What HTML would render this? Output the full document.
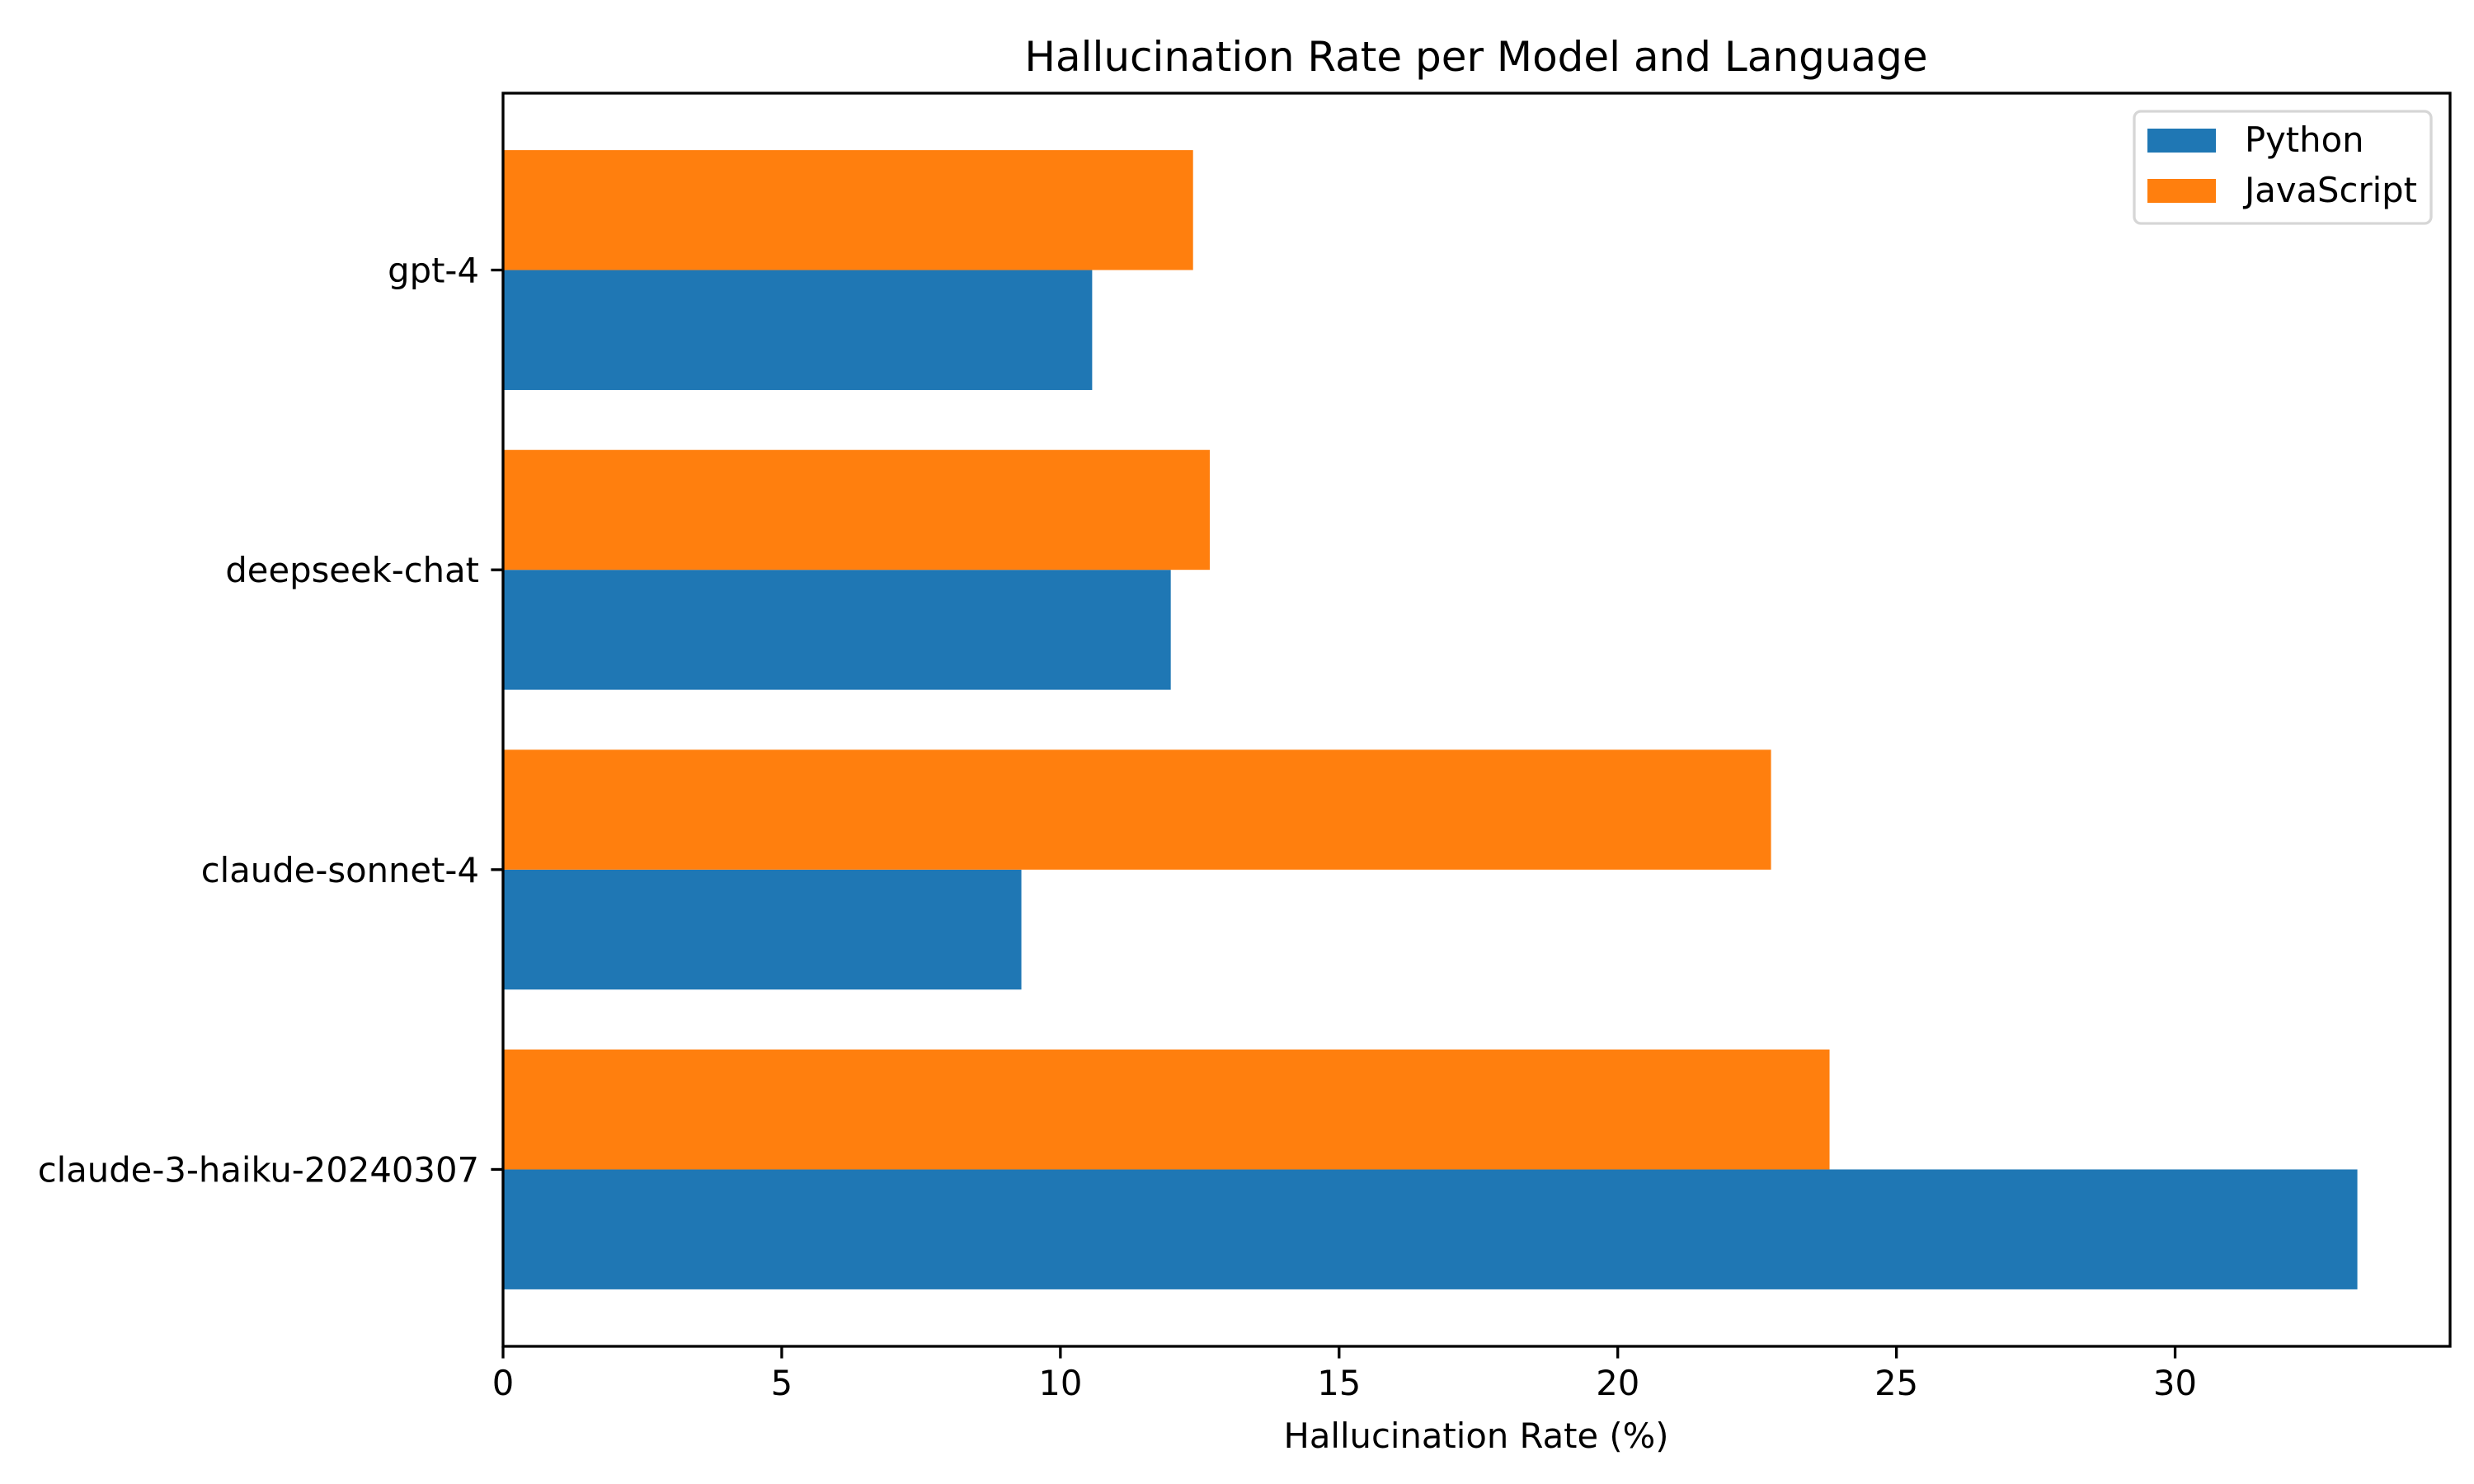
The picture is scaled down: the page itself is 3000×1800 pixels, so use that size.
<!DOCTYPE html>
<html><head><meta charset="utf-8"><style>
html,body{margin:0;padding:0;background:#fff;}
svg{display:block;font-family:"DejaVu Sans","Liberation Sans",sans-serif;}
</style></head><body>
<svg id="chart" width="3000" height="1800" viewBox="0 0 3000 1800" xmlns="http://www.w3.org/2000/svg">
<rect width="3000" height="1800" fill="#fff"/>
<g id="bars"></g>
<g id="axes"></g>
<text x="1790" y="86" font-size="50" text-anchor="middle">Hallucination Rate per Model and Language</text>
<text x="1790" y="1756" font-size="41.7" text-anchor="middle">Hallucination Rate (%)</text>
<g>
<rect x="2588" y="135" width="360" height="136" rx="8" fill="#fff" fill-opacity="0.8" stroke="#d6d6d6" stroke-width="3.3"/>
<rect x="2604" y="156" width="83" height="29" fill="#1f77b4"/>
<text x="2722" y="184" font-size="41.7">Python</text>
<rect x="2604" y="217" width="83" height="29" fill="#ff7f0e"/>
<text x="2722" y="245" font-size="41.7">JavaScript</text>
</g>
</svg>
<script>
const categories = ["claude-3-haiku-20240307", "claude-sonnet-4", "deepseek-chat", "gpt-4"];
const pythonValues = [33.27, 9.3, 11.98, 10.57];
const javascriptValues = [23.8, 22.75, 12.68, 12.38];
const xTicks = [0, 5, 10, 15, 20, 25, 30];

const NS = "http://www.w3.org/2000/svg";
const L = 610, R = 2971, T = 113, B = 1633;
const xMax = Math.max(...pythonValues, ...javascriptValues) * 1.05;
const yMin = -0.59, yMax = categories.length - 1 + 0.59;
function xScale(v){ return L + (v / xMax) * (R - L); }
function yScale(v){ return B - (v - yMin) / (yMax - yMin) * (B - T); }
function mk(tag, attrs){ const e = document.createElementNS(NS, tag); for (const k in attrs) e.setAttribute(k, attrs[k]); return e; }

const bars = document.getElementById("bars");
const axes = document.getElementById("axes");
const barH = 0.4;
categories.forEach((c, i) => {
  const p = pythonValues[i], j = javascriptValues[i];
  const pr = mk("rect", {x: xScale(0), y: yScale(i), width: xScale(p) - xScale(0), height: yScale(i - barH) - yScale(i), fill: "#1f77b4"});
  
  
  bars.appendChild(pr);
  const jr = mk("rect", {x: xScale(0), y: yScale(i + barH), width: xScale(j) - xScale(0), height: yScale(i) - yScale(i + barH), fill: "#ff7f0e"});
  
  
  bars.appendChild(jr);
  const tk = mk("line", {x1: L - 14.6, x2: L, y1: yScale(i), y2: yScale(i), stroke: "#000", "stroke-width": 3.3});
  
  
  axes.appendChild(tk);
  const tl = mk("text", {x: L - 29, y: yScale(i) + 15, "font-size": 41.7, "text-anchor": "end"});
  tl.textContent = c;
  
  
  axes.appendChild(tl);
});
xTicks.forEach(t => {
  const tk = mk("line", {x1: xScale(t), x2: xScale(t), y1: B, y2: B + 14.6, stroke: "#000", "stroke-width": 3.3});
  
  
  axes.appendChild(tk);
  const tl = mk("text", {x: xScale(t), y: B + 59, "font-size": 41.7, "text-anchor": "middle"});
  tl.textContent = t;
  
  
  axes.appendChild(tl);
});
const frame = mk("rect", {x: L, y: T, width: R - L, height: B - T, fill: "none", stroke: "#000", "stroke-width": 3.3});


axes.appendChild(frame);
</script>
</body></html>
